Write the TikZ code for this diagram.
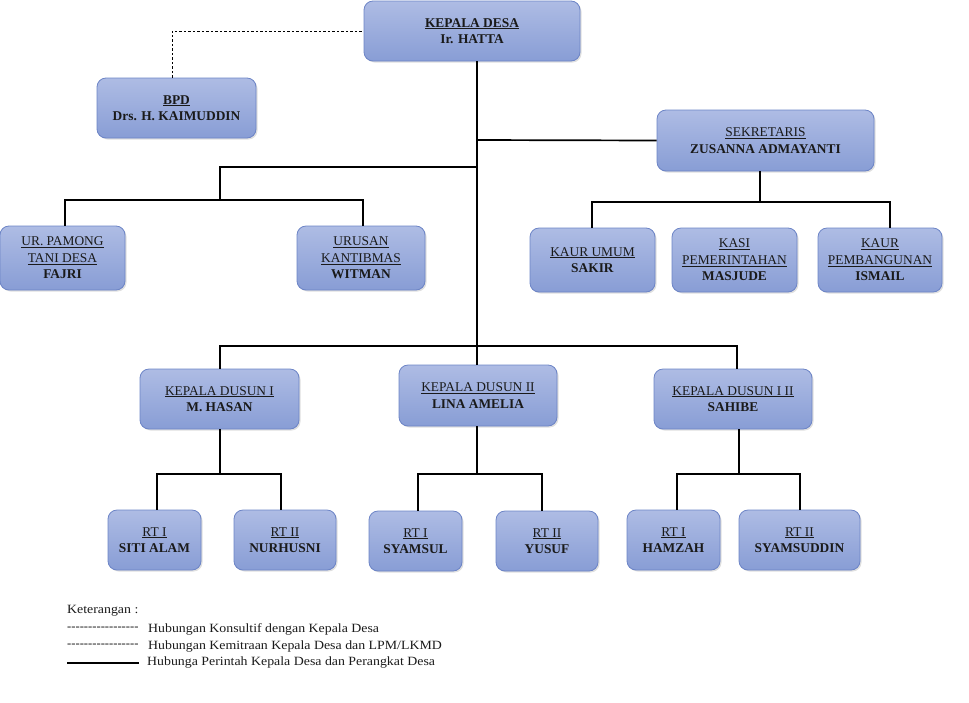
\documentclass[tikz,border=0pt]{standalone}
\usepackage{fontspec}
\setmainfont{Liberation Serif}
\newfontfamily\legfont[FakeStretch=1.1]{Liberation Serif}
\usetikzlibrary{shadows}
\definecolor{boxtop}{HTML}{AEBCE4}
\definecolor{boxbot}{HTML}{889DD5}
\definecolor{boxline}{HTML}{6C84C6}
\definecolor{txt}{HTML}{1A1A1A}
\tikzset{
  orgbox/.style={draw=boxline, line width=0.8pt, rounded corners=9pt,
    top color=boxtop, bottom color=boxbot, align=center, inner sep=2pt,
    text=txt, font=\fontsize{13.4}{16.5}\selectfont,
    drop shadow={shadow xshift=1.5pt, shadow yshift=-1.5pt, opacity=0.25}},
  link/.style={line width=1.7pt, black},
  dashlink/.style={line width=0.7pt, black, dash pattern=on 2.5pt off 2pt},
  legend/.style={font=\legfont\fontsize{12.6}{14}\selectfont, anchor=west, inner sep=0pt, text=txt},
  legdash/.style={font=\fontsize{12.6}{14}\selectfont, anchor=west, inner sep=0pt, text=txt}
}
\newcommand{\ul}[1]{\underline{#1}}
\newcommand{\hy}{\hbox{-}}
\newcommand{\dashrow}{\hy\hy\hy\hy\hy\hy\hy\hy\hy\hy\hy\hy\hy\hy\hy\hy\hy}
\begin{document}
\begin{tikzpicture}[x=1pt,y=-1pt]
\useasboundingbox (0,0) rectangle (969,702);
% boxes
\node[orgbox, minimum width=216pt, minimum height=60pt] (kades) at (472,31) {\textbf{\ul{KEPALA DESA}}\\\textbf{Ir. HATTA}};
\node[orgbox, minimum width=159pt, minimum height=60pt] (bpd) at (176.5,108) {\textbf{\ul{BPD}}\\\textbf{Drs. H. KAIMUDDIN}};
\node[orgbox, minimum width=217pt, minimum height=61pt] (sek) at (765.5,140.5) {\ul{SEKRETARIS}\\\textbf{ZUSANNA ADMAYANTI}};
\node[orgbox, minimum width=125pt, minimum height=64pt] (pamong) at (62.5,258) {\ul{UR. PAMONG}\\\ul{TANI DESA}\\\textbf{FAJRI}};
\node[orgbox, minimum width=128pt, minimum height=64pt] (kantib) at (361,258) {\ul{URUSAN}\\\ul{KANTIBMAS}\\\textbf{WITMAN}};
\node[orgbox, minimum width=125pt, minimum height=64pt] (umum) at (592.5,260) {\ul{KAUR UMUM}\\\textbf{SAKIR}};
\node[orgbox, minimum width=125pt, minimum height=64pt] (kasi) at (734.5,260) {\ul{KASI}\\\ul{PEMERINTAHAN}\\\textbf{MASJUDE}};
\node[orgbox, minimum width=124pt, minimum height=64pt] (pemb) at (880,260) {\ul{KAUR}\\\ul{PEMBANGUNAN}\\\textbf{ISMAIL}};
\node[orgbox, minimum width=159pt, minimum height=60pt] (dus1) at (219.5,399) {\ul{KEPALA DUSUN I}\\\textbf{M. HASAN}};
\node[orgbox, minimum width=158pt, minimum height=61pt] (dus2) at (478,395.5) {\ul{KEPALA DUSUN II}\\\textbf{LINA AMELIA}};
\node[orgbox, minimum width=158pt, minimum height=60pt] (dus3) at (733,399) {\ul{KEPALA DUSUN I II}\\\textbf{SAHIBE}};
\node[orgbox, minimum width=93pt, minimum height=60pt] (rt11) at (154.5,540) {\ul{RT I}\\\textbf{SITI ALAM}};
\node[orgbox, minimum width=102pt, minimum height=60pt] (rt12) at (285,540) {\ul{RT II}\\\textbf{NURHUSNI}};
\node[orgbox, minimum width=93pt, minimum height=60pt] (rt21) at (415.5,541) {\ul{RT I}\\\textbf{SYAMSUL}};
\node[orgbox, minimum width=102pt, minimum height=60pt] (rt22) at (547,541) {\ul{RT II}\\\textbf{YUSUF}};
\node[orgbox, minimum width=93pt, minimum height=60pt] (rt31) at (673.5,540) {\ul{RT I}\\\textbf{HAMZAH}};
\node[orgbox, minimum width=121pt, minimum height=60pt] (rt32) at (799.5,540) {\ul{RT II}\\\textbf{SYAMSUDDIN}};
% junction coordinates
\coordinate (busL) at (477,346);
\coordinate (j1) at (220,474);
\coordinate (j2) at (477,474);
\coordinate (j3) at (739,474);
% dashed consultative link
\draw[dashlink] (bpd.north -| 172,0) |- (kades.west);
% main spine
\draw[link] (kades.south -| 477,0) -- (busL);
\draw[link] (477,140) -- (sek.west);
% left branch
\draw[link] (477,167) -- (220,167) -- (220,200);
\draw[link] (pamong.north -| 65,0) |- (363,200) -- (kantib.north -| 363,0);
% secretary branch
\draw[link] (sek.south -| 760,0) -- (760,202);
\draw[link] (umum.north -| 592,0) |- (890,202) -- (pemb.north -| 890,0);
% dusun bus
\draw[link] (dus1.north -| 220,0) |- (737,346) -- (dus3.north -| 737,0);
\draw[link] (busL) -- (dus2.north -| 477,0);
% dusun I
\draw[link] (dus1.south -| 220,0) -- (j1);
\draw[link] (rt11.north -| 157,0) |- (281,474) -- (rt12.north -| 281,0);
% dusun II
\draw[link] (dus2.south -| 477,0) -- (j2);
\draw[link] (rt21.north -| 418,0) |- (542,474) -- (rt22.north -| 542,0);
% dusun III
\draw[link] (dus3.south -| 739,0) -- (j3);
\draw[link] (rt31.north -| 677,0) |- (800,474) -- (rt32.north -| 800,0);
% legend
\node[legend] (ket) at (67,611) {Keterangan :};
\node[legdash] (d1) at (67,629) {\dashrow};
\node[legend] (lg1) at (148,629) {Hubungan Konsultif dengan Kepala Desa};
\node[legdash] (d2) at (67,646) {\dashrow};
\node[legend] (lg2) at (148,646) {Hubungan Kemitraan Kepala Desa dan LPM/LKMD};
\coordinate (lgs) at (67,663);
\coordinate (lge) at (139,663);
\draw[line width=1.6pt] (lgs) -- (lge);
\node[legend] (lg3) at (147,662) {Hubunga Perintah Kepala Desa dan Perangkat Desa};
\end{tikzpicture}
\end{document}
